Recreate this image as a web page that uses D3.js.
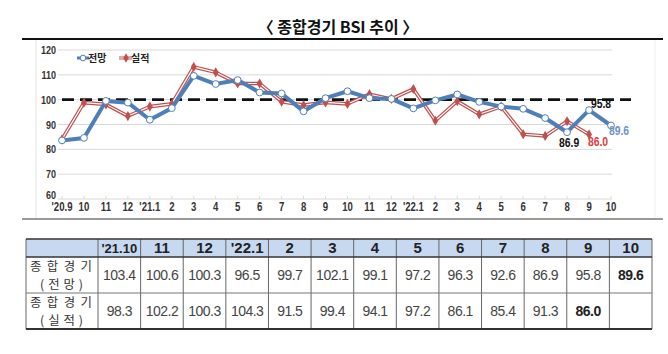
<!DOCTYPE html>
<html>
<head>
<meta charset="utf-8">
<script src="https://cdn.jsdelivr.net/npm/d3@7"></script>
<style>
  body { margin: 0; background: #fff; }
  svg { display: block; }
</style>
</head>
<body>
<div id="chart"></div>
<script>
// month labels on the x axis, '20.9 .. '22.10
var months = ["'20.9","10","11","12","'21.1","2","3","4","5","6","7","8","9",
              "10","11","12","'22.1","2","3","4","5","6","7","8","9","10"];
// 전망 (forecast) BSI
var forecast = [83.6, 84.6, 99.5, 98.8, 91.9, 96.6, 109.6, 106.3, 107.9, 102.9, 102.5, 95.3, 100.6,
                103.4, 100.6, 100.3, 96.5, 99.7, 102.1, 99.1, 97.2, 96.3, 92.6, 86.9, 95.8, 89.6];
// 실적 (actual) BSI
var actual = [84.0, 98.8, 98.1, 93.4, 97.2, 98.3, 113.2, 111.0, 106.5, 106.5, 99.2, 97.8, 98.9,
              98.3, 102.2, 100.3, 104.3, 91.5, 99.4, 94.1, 97.2, 86.1, 85.4, 91.3, 86.0];
var yTicks = [60, 70, 80, 90, 100, 110, 120];
// table
var tableHeads = ["'21.10","11","12","'22.1","2","3","4","5","6","7","8","9","10"];
var rowNames = [["종합경기","(전망)"], ["종합경기","(실적)"]];
var tableStart = 13; // first month shown in the table

var W = 668, H = 354;
var svg = d3.select("#chart").append("svg").attr("width", W).attr("height", H);
svg.append("rect").attr("width", W).attr("height", H).attr("fill", "#fff");

var sans = "'Liberation Sans', Arial, sans-serif";
var kr = "'Noto Sans CJK KR', sans-serif";

// condensed text helper: squeeze horizontally like the narrow font in the original
function narrowText(sel, sx) {
  sel.attr("transform", function(d){ return "translate(" + d.x + "," + d.y + ") scale(" + sx + ",1)"; });
}

// title
svg.append("text").attr("x", 338).attr("y", 33).attr("text-anchor", "middle")
   .attr("font-family", kr).attr("font-weight", "bold")
   .attr("font-size", 16).attr("fill", "#111")
   .text("〈 종합경기 BSI 추이 〉");
svg.append("line").attr("x1", 22).attr("x2", 663).attr("y1", 39).attr("y2", 39)
   .attr("stroke", "#111").attr("stroke-width", 2);

// chart frame (light)
svg.append("line").attr("x1", 36).attr("x2", 36).attr("y1", 40).attr("y2", 218)
   .attr("stroke", "#e4e4e4");
svg.append("line").attr("x1", 655).attr("x2", 655).attr("y1", 40).attr("y2", 218)
   .attr("stroke", "#eeeeee");
svg.append("line").attr("x1", 22).attr("x2", 663).attr("y1", 219).attr("y2", 219)
   .attr("stroke", "#777").attr("stroke-width", 1.5);

var x = d3.scalePoint().domain(d3.range(months.length)).range([62, 611]);
var y = d3.scaleLinear().domain([60, 120]).range([199, 50]);

// gridlines
svg.selectAll("line.grid").data(yTicks).enter().append("line").attr("class", "grid")
   .attr("x1", 58).attr("x2", 612)
   .attr("y1", function(d){ return y(d); }).attr("y2", function(d){ return y(d); })
   .attr("stroke", "#d9d9d9").attr("stroke-width", 1);
// small ticks on the bottom line
svg.selectAll("line.xt").data(d3.range(months.length)).enter().append("line").attr("class", "xt")
   .attr("x1", function(d){ return x(d); }).attr("x2", function(d){ return x(d); })
   .attr("y1", y(60)).attr("y2", y(60) - 3)
   .attr("stroke", "#d9d9d9");

// y labels
svg.selectAll("text.yl")
   .data(yTicks.map(function(v){ return {t: v, x: 56, y: y(v) + (v == 60 ? 0 : 4)}; }))
   .enter().append("text").attr("class", "yl")
   .attr("text-anchor", "end").attr("font-family", sans).attr("font-weight", "bold")
   .attr("font-size", 11).attr("fill", "#333")
   .call(narrowText, 0.82)
   .text(function(d){ return d.t; });

// x labels
svg.selectAll("text.xl")
   .data(months.map(function(m, i){ return {t: m, x: x(i), y: 211}; }))
   .enter().append("text").attr("class", "xl")
   .attr("text-anchor", "middle").attr("font-family", sans).attr("font-weight", "bold")
   .attr("font-size", 12).attr("fill", "#333")
   .call(narrowText, 0.8)
   .text(function(d){ return d.t; });

// baseline 100
svg.append("line").attr("x1", 62).attr("x2", 631).attr("y1", y(100)).attr("y2", y(100))
   .attr("stroke", "#111").attr("stroke-width", 2.6).attr("stroke-dasharray", "12,6");

var line = d3.line().x(function(d, i){ return x(i); }).y(function(d){ return y(d); });

// actual: red double line
svg.append("path").datum(actual).attr("d", line).attr("fill", "none")
   .attr("stroke", "#c0504d").attr("stroke-width", 3.6).attr("stroke-linejoin", "round");
svg.append("path").datum(actual).attr("d", line).attr("fill", "none")
   .attr("stroke", "#fff").attr("stroke-width", 1.1).attr("stroke-linejoin", "round");
svg.selectAll("path.dm").data(actual).enter().append("path").attr("class", "dm")
   .attr("d", d3.symbol().type(d3.symbolDiamond).size(30))
   .attr("transform", function(d, i){ return "translate(" + x(i) + "," + y(d) + ")"; })
   .attr("fill", "#c0504d");

// forecast: thick blue line with white circles
svg.append("path").datum(forecast).attr("d", line).attr("fill", "none")
   .attr("stroke", "#4f7fb9").attr("stroke-width", 4).attr("stroke-linejoin", "round");
svg.selectAll("circle.fm").data(forecast).enter().append("circle").attr("class", "fm")
   .attr("cx", function(d, i){ return x(i); }).attr("cy", function(d){ return y(d); })
   .attr("r", 3.4).attr("fill", "#fff").attr("stroke", "#4f7fb9").attr("stroke-width", 1);

// point labels
var last = months.length - 1;
var ptLabels = [
  {v: forecast[23], x: x(23) + 2, y: y(forecast[23]) + 15, c: "#111"},
  {v: forecast[24], x: x(24) + 12, y: y(forecast[24]) - 2, c: "#111"},
  {v: forecast[last], x: x(last) + 8, y: y(forecast[last]) + 10, c: "#6f93c8"},
  {v: actual[24], x: x(24) + 9, y: y(actual[24]) + 12, c: "#e03c3c"}
];
svg.selectAll("text.pl").data(ptLabels).enter().append("text").attr("class", "pl")
   .attr("text-anchor", "middle").attr("font-family", sans).attr("font-weight", "bold")
   .attr("font-size", 13).attr("fill", function(d){ return d.c; })
   .call(narrowText, 0.8)
   .text(function(d){ return d.v.toFixed(1); });

// legend
var lg = svg.append("g").attr("font-family", kr)
   .attr("font-weight", "bold").attr("font-size", 10).attr("fill", "#222");
lg.append("line").attr("x1", 77).attr("x2", 89).attr("y1", 58).attr("y2", 58)
  .attr("stroke", "#4f7fb9").attr("stroke-width", 3);
lg.append("circle").attr("cx", 83).attr("cy", 58).attr("r", 2.8).attr("fill", "#fff")
  .attr("stroke", "#4f7fb9");
lg.append("text").attr("x", 88).attr("y", 62).text("전망");
lg.append("line").attr("x1", 119).attr("x2", 132).attr("y1", 58).attr("y2", 58)
  .attr("stroke", "#c0504d").attr("stroke-width", 3);
lg.append("line").attr("x1", 119).attr("x2", 132).attr("y1", 58).attr("y2", 58)
  .attr("stroke", "#fff").attr("stroke-width", 1);
lg.append("path").attr("d", d3.symbol().type(d3.symbolDiamond).size(26))
  .attr("transform", "translate(126,58)").attr("fill", "#c0504d");
lg.append("text").attr("x", 131).attr("y", 62).text("실적");

// ---------- table ----------
var tX0 = 26, tX1 = 98, tX2 = 652;
var colW = (tX2 - tX1) / tableHeads.length;
var rTop = 239, rHead = 257, r1 = 293, r2 = 329;
var colX = function(i){ return tX1 + i * colW; };

svg.append("rect").attr("x", tX0).attr("y", rTop).attr("width", tX2 - tX0).attr("height", rHead - rTop)
   .attr("fill", "#c6d9f1");

// vertical lines
var vx = [tX0].concat(d3.range(tableHeads.length + 1).map(colX));
svg.selectAll("line.tv").data(vx).enter().append("line").attr("class", "tv")
   .attr("x1", function(d){ return d; }).attr("x2", function(d){ return d; })
   .attr("y1", rTop).attr("y2", r2).attr("stroke", "#666").attr("stroke-width", 1);
// horizontal lines
svg.append("line").attr("x1", tX0).attr("x2", tX2).attr("y1", rTop).attr("y2", rTop)
   .attr("stroke", "#333").attr("stroke-width", 1.5);
svg.append("line").attr("x1", tX0).attr("x2", tX2).attr("y1", rHead).attr("y2", rHead)
   .attr("stroke", "#333").attr("stroke-width", 1.5);
svg.append("line").attr("x1", tX0).attr("x2", tX2).attr("y1", r1).attr("y2", r1)
   .attr("stroke", "#777").attr("stroke-width", 1);
svg.append("line").attr("x1", tX0).attr("x2", tX2).attr("y1", r2).attr("y2", r2)
   .attr("stroke", "#333").attr("stroke-width", 2);

svg.selectAll("text.th").data(tableHeads).enter().append("text").attr("class", "th")
   .attr("x", function(d, i){ return colX(i) + colW / 2; }).attr("y", rHead - 4)
   .attr("text-anchor", "middle").attr("font-family", sans).attr("font-weight", "bold")
   .attr("font-size", function(d, i){ return i == 0 ? 13 : 15; }).attr("fill", "#222")
   .text(function(d){ return d; });

// row names: two lines, spread across the cell
var rowMid = [(rHead + r1) / 2, (r1 + r2) / 2];
rowNames.forEach(function(nm, ri){
  svg.append("text").attr("font-family", kr).attr("font-size", 12.4).attr("fill", "#333")
     .attr("x", 30).attr("y", rowMid[ri] - 3.6)
     .attr("textLength", 62).attr("lengthAdjust", "spacing").text(nm[0]);
  svg.append("text").attr("font-family", kr).attr("font-size", 12.4).attr("fill", "#333")
     .attr("x", 40).attr("y", rowMid[ri] + 14.4)
     .attr("textLength", 43).attr("lengthAdjust", "spacing").text(nm[1]);
});

var rows = [forecast.slice(tableStart), actual.slice(tableStart)];
rows.forEach(function(vals, ri){
  var n = vals.length;
  svg.selectAll("text.tr" + ri).data(vals).enter().append("text").attr("class", "tr" + ri)
     .attr("x", function(d, i){ return colX(i) + colW / 2; }).attr("y", rowMid[ri] + 5)
     .attr("text-anchor", "middle").attr("font-family", sans)
     .attr("font-size", 14).attr("letter-spacing", -0.5)
     .attr("font-weight", function(d, i){ return i == n - 1 ? "bold" : "normal"; })
     .attr("fill", function(d, i){ return i == n - 1 ? "#222" : "#444"; })
     .text(function(d){ return d.toFixed(1); });
});
</script>
</body>
</html>
